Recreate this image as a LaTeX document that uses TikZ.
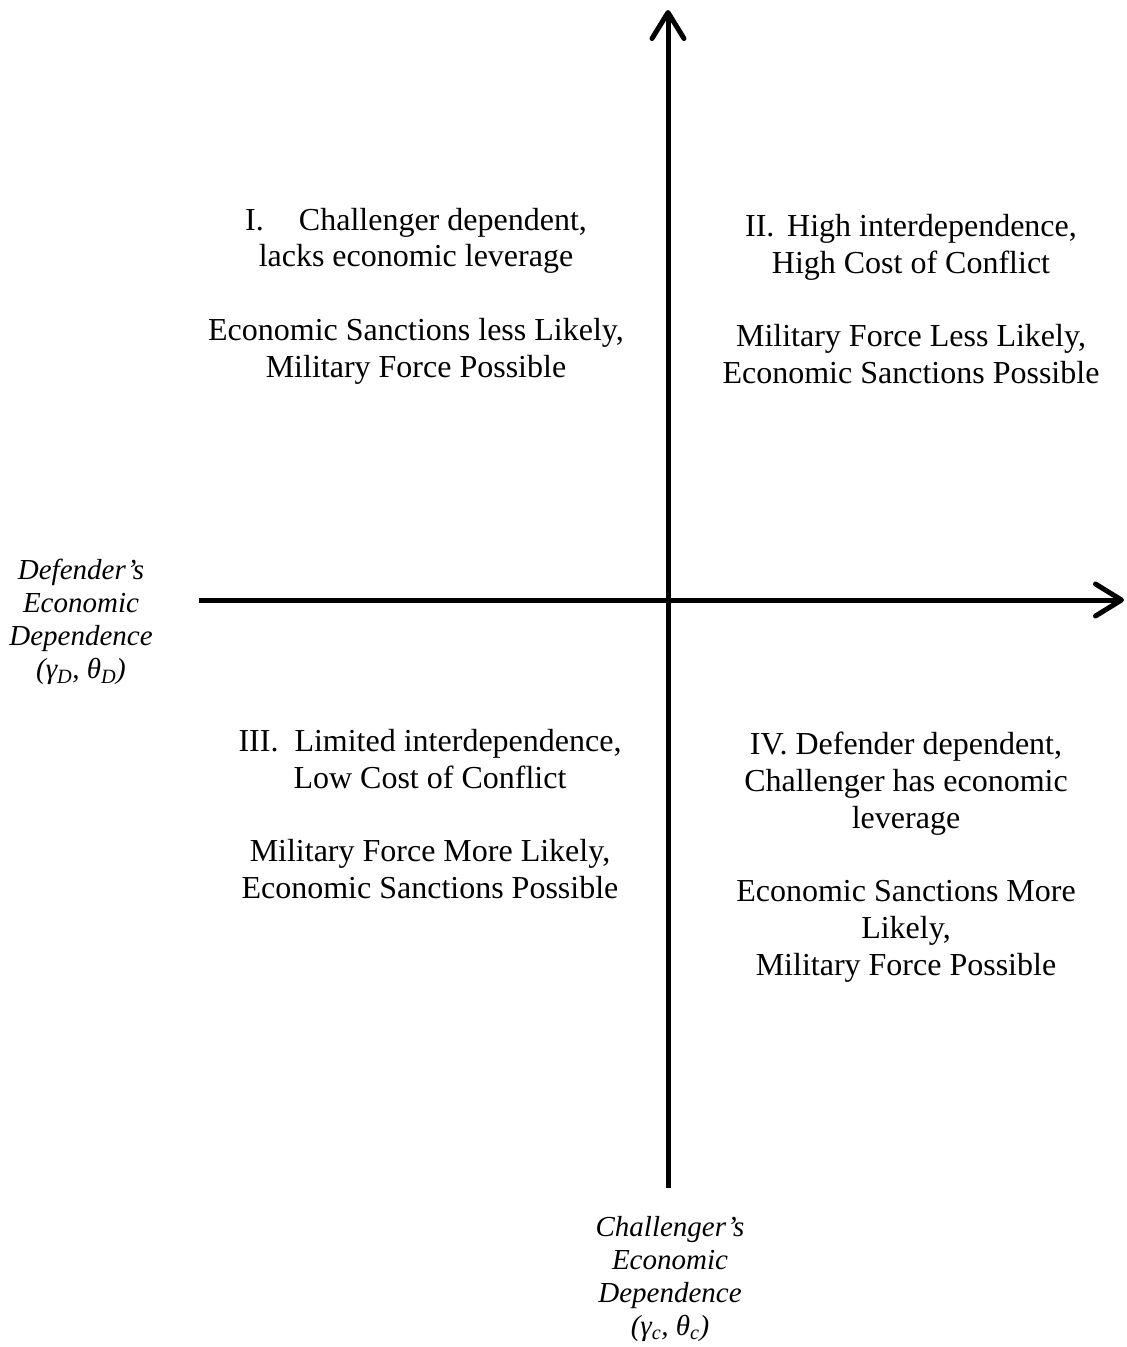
\documentclass[tikz,border=0pt]{standalone}
\usepackage{fontspec}
\setmainfont{Liberation Serif}
\usetikzlibrary{arrows.meta}
\begin{document}
\begin{tikzpicture}[x=1pt,y=-1pt,
  axis/.style={line width=5pt,-{Straight Barb[length=26pt,width=32pt,round]}},
  quad/.style={align=center,inner sep=0pt,font=\fontsize{32}{36.8}\selectfont},
  axlabel/.style={align=center,inner sep=0pt,font=\fontsize{29}{33}\selectfont\itshape}]
  \useasboundingbox (0,0) rectangle (1127,1347);
  % axes
  \coordinate (xs) at (199,600);
  \coordinate (xe) at (1124,600);
  \coordinate (ys) at (668,1188);
  \coordinate (ye) at (668,10);
  \draw[axis] (xs) -- (xe);
  \draw[axis] (ys) -- (ye);
  % quadrant texts
  \node[quad] (q1) at (416,296) {I.\hspace{1.1em}Challenger dependent,\\lacks economic leverage\\[36.8pt]Economic Sanctions less Likely,\\Military Force Possible};
  \node[quad] (q2) at (911,299) {II.\hspace{0.4em}High interdependence,\\High Cost of Conflict\\[36.8pt]Military Force Less Likely,\\Economic Sanctions Possible};
  \node[quad] (q3) at (430,814) {III.\hspace{0.5em}Limited interdependence,\\Low Cost of Conflict\\[36.8pt]Military Force More Likely,\\Economic Sanctions Possible};
  \node[quad] (q4) at (906,857) {IV. Defender dependent,\\Challenger has economic\\leverage\\[36.8pt]Economic Sanctions More\\Likely,\\Military Force Possible};
  % axis labels
  \node[axlabel] (dl) at (81,622) {Defender’s\\Economic\\Dependence\\(γ\textsubscript{D}, θ\textsubscript{D})};
  \node[axlabel] (cl) at (670,1279) {Challenger’s\\Economic\\Dependence\\(γ\textsubscript{c}, θ\textsubscript{c})};
\end{tikzpicture}
\end{document}
